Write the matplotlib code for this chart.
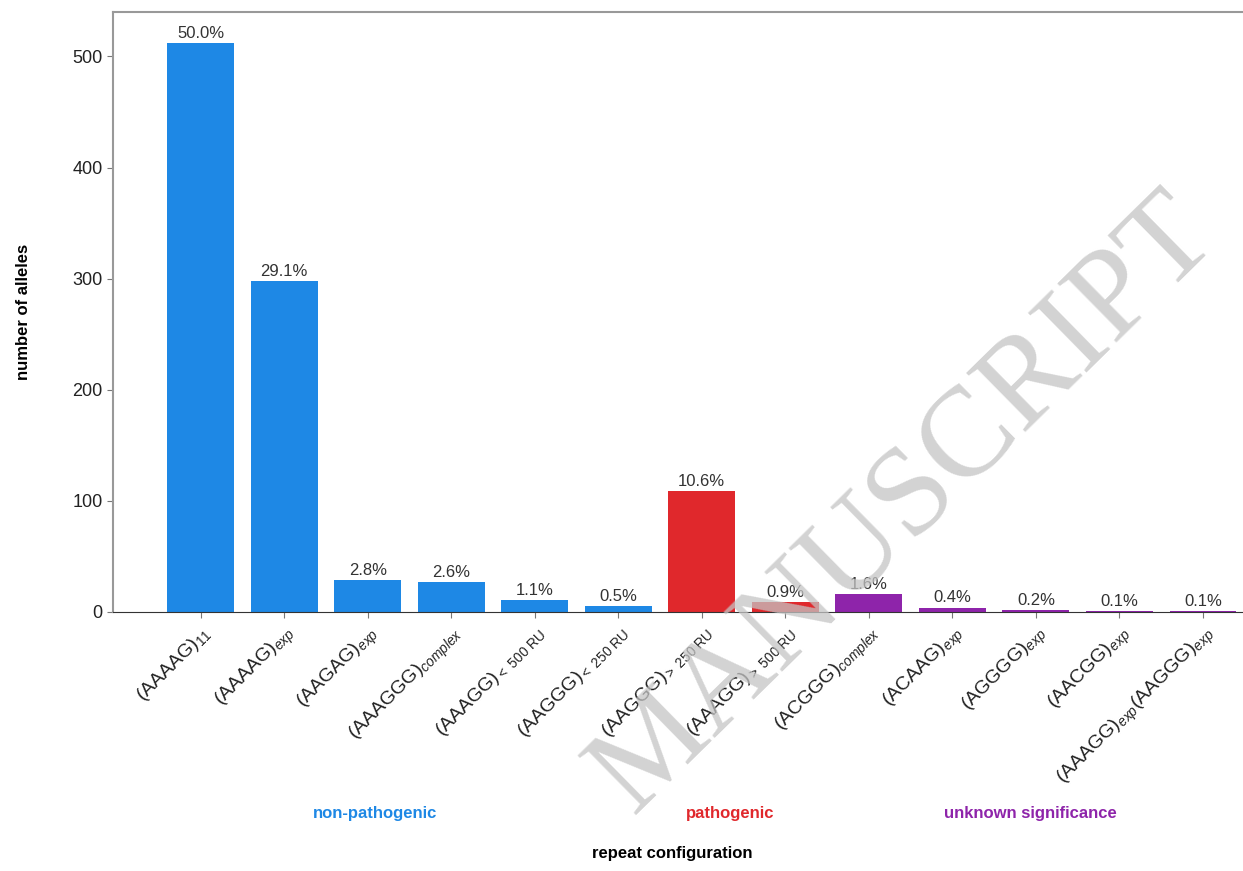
import matplotlib
matplotlib.use("Agg")
import matplotlib.pyplot as plt

plt.rcParams["font.family"] = ["Liberation Sans", "DejaVu Sans"]
plt.rcParams["mathtext.fontset"] = "custom"
plt.rcParams["mathtext.rm"] = "Liberation Sans"
plt.rcParams["mathtext.it"] = "Liberation Sans:italic"

labels = [
    r"(AAAAG)$_{11}$",
    r"(AAAAG)$_{exp}$",
    r"(AAGAG)$_{exp}$",
    r"(AAAGGG)$_{complex}$",
    r"(AAAGG)$_{\mathrm{<\ 500\ RU}}$",
    r"(AAGGG)$_{\mathrm{<\ 250\ RU}}$",
    r"(AAGGG)$_{\mathrm{>\ 250\ RU}}$",
    r"(AAAGG)$_{\mathrm{>\ 500\ RU}}$",
    r"(ACGGG)$_{complex}$",
    r"(ACAAG)$_{exp}$",
    r"(AGGGG)$_{exp}$",
    r"(AACGG)$_{exp}$",
    r"(AAAGG)$_{exp}$(AAGGG)$_{exp}$",
]
counts = [512, 298, 29, 27, 11, 5, 109, 9, 16, 4, 2, 1, 1]
groups = ["non", "non", "non", "non", "non", "non", "path", "path",
          "unk", "unk", "unk", "unk", "unk"]

colors = {"non": "#1e88e5", "path": "#e0282c", "unk": "#8e24aa"}
total = sum(counts)

fig = plt.figure(figsize=(12.43, 8.71), dpi=100)
ax = fig.add_axes([113 / 1243, (871 - 612) / 871, 1 - 113 / 1243, 600 / 871])

x = list(range(len(counts)))
ax.bar(x, counts, width=0.8, color=[colors[g] for g in groups])
for xi, c in zip(x, counts):
    ax.text(xi, c + 2, f"{100 * c / total:.1f}%", ha="center", va="bottom",
            fontsize=12, color="#333333")

ax.set_xlim(-1.05, 12.48)
ax.set_ylim(0, 540)
ax.set_yticks([0, 100, 200, 300, 400, 500])
ax.set_xticks(x)
ax.set_xticklabels(labels, rotation=45, ha="right", rotation_mode="anchor",
                   fontsize=14)
ax.tick_params(axis="y", labelsize=13, colors="#777777", labelcolor="#222222",
               length=4)
ax.tick_params(axis="x", colors="#777777", labelcolor="#222222", length=4)
for s in ["left", "top"]:
    ax.spines[s].set_color("#999999")
    ax.spines[s].set_linewidth(1.5)
ax.spines["bottom"].set_color("#333333")
ax.spines["right"].set_visible(False)

ax.set_ylabel("number of alleles", fontsize=12, fontweight="bold", labelpad=30)
fig.text(672 / 1243, 1 - 853 / 871, "repeat configuration", ha="center",
         va="center", fontsize=12, fontweight="bold")
fig.text(375 / 1243, 1 - 813 / 871, "non-pathogenic", ha="center", va="center",
         fontsize=12, fontweight="bold", color=colors["non"])
fig.text(730 / 1243, 1 - 813 / 871, "pathogenic", ha="center", va="center",
         fontsize=12, fontweight="bold", color=colors["path"])
fig.text(1030 / 1243, 1 - 813 / 871, "unknown significance", ha="center",
         va="center", fontsize=12, fontweight="bold", color=colors["unk"])

# watermark
fig.text(905 / 1243, 1 - 505 / 871, "MANUSCRIPT", ha="center", va="center",
         rotation=44.5, fontsize=92, family="Liberation Serif",
         color="#c4c4c4", alpha=0.75, zorder=10)

fig.savefig("out.png", dpi=100)
